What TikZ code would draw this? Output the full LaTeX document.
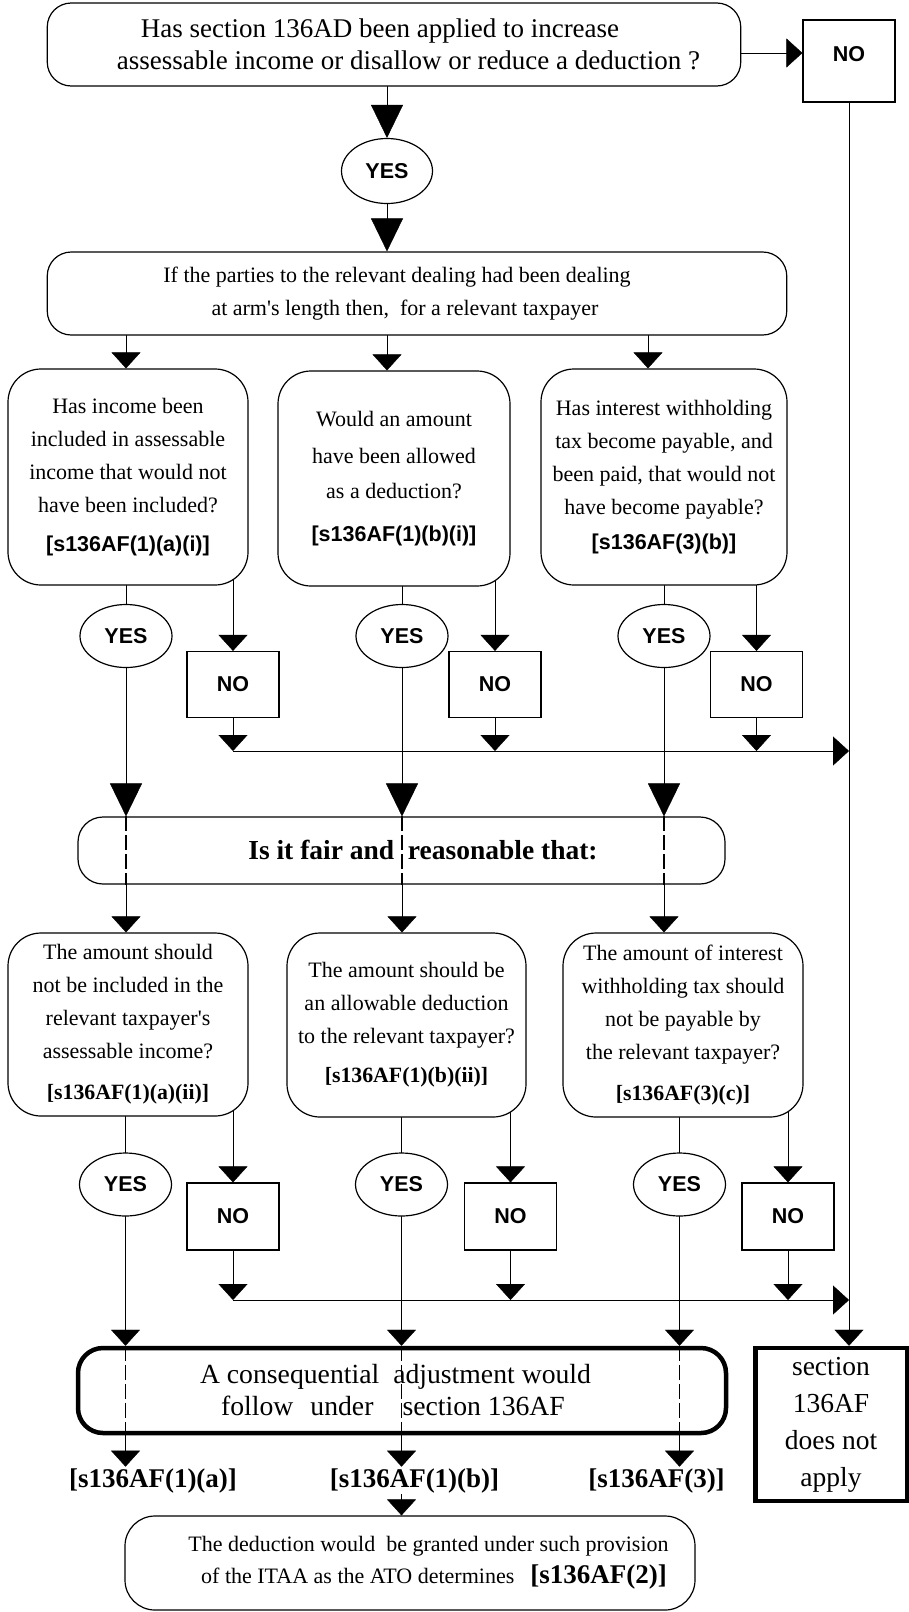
\documentclass[tikz,border=0pt]{standalone}
\usepackage{fontspec}
\setmainfont{Liberation Serif}
\setsansfont{Liberation Sans}
\usepackage{tikz}
\usetikzlibrary{shapes.geometric,arrows.meta,backgrounds}

\newcommand{\refsans}[1]{{\sffamily\bfseries\fontsize{21.5}{26}\selectfont #1}}
\newcommand{\refserif}[1]{{\bfseries\fontsize{21.8}{26}\selectfont #1}}

\begin{document}
\begin{tikzpicture}[x=1pt,y=-1pt,line width=1.2pt,
	box/.style={draw, rectangle, rounded corners=33pt, fill=white, align=center, inner sep=0pt, font=\fontsize{22}{33}\selectfont},
	widebox/.style={box, rounded corners=24pt},
	heavybox/.style={box, rounded corners=25pt, line width=4.5pt, font=\fontsize{27.7}{32}\selectfont},
	yesnode/.style={draw, ellipse, fill=white, minimum width=92pt, minimum height=63pt, inner sep=0pt, font=\sffamily\bfseries\fontsize{21.5}{24}\selectfont},
	nonode/.style={draw, rectangle, fill=white, minimum width=92pt, minimum height=66pt, inner sep=0pt, font=\sffamily\bfseries\fontsize{21.5}{24}\selectfont},
	provlabel/.style={inner sep=1pt, font=\bfseries\fontsize{27}{30}\selectfont},
	bigtip/.style={-{Triangle[width=32pt,length=33pt]}},
	smalltip/.style={-{Triangle[width=29pt,length=16pt]}},
	dashthrough/.style={dash pattern=on 15pt off 4pt}]
	\useasboundingbox (0,0) rectangle (909,1612);

	% first question
	\node[widebox, minimum width=693.5pt, minimum height=83pt, font=\fontsize{27}{32}\selectfont] (q0) at (394,44.5) {Has section 136AD been applied to increase\hspace*{28pt}\\\hspace*{29pt}assessable income or disallow or reduce a deduction ?};
	\node[nonode, minimum height=82pt, text depth=14pt] (no0) at (849,61) {NO};
	\node[yesnode, minimum width=91pt, minimum height=65pt] (y0) at (387,171) {YES};
	\node[widebox, minimum width=739.5pt, minimum height=83pt] (q1) at (417,293.5) {If the parties to the relevant dealing had been dealing\hspace*{40pt}\\at arm\textquotesingle s length then,\ \ for a relevant taxpayer\hspace*{24pt}};

	% arm's length questions
	\node[box, minimum width=240pt, minimum height=216pt] (a1) at (128,477) {Has income been\\included in assessable\\income that would not\\have been included?\\[6pt]\refsans{[s136AF(1)(a)(i)]}};
	\node[box, minimum width=232pt, minimum height=215pt] (a2) at (394,478.5) {Would an amount\\[4pt]have been allowed\\[2pt]as a deduction?\\[10pt]\refsans{[s136AF(1)(b)(i)]}};
	\node[box, minimum width=246pt, minimum height=216pt] (a3) at (664,477) {Has interest withholding\\tax become payable, and\\been paid, that would not\\have become payable?\\[2pt]\refsans{[s136AF(3)(b)]}};

	\node[yesnode] (ya1) at (126,636) {YES};
	\node[yesnode] (ya2) at (402,636) {YES};
	\node[yesnode] (ya3) at (664,636) {YES};
	\node[nonode] (na1) at (233,684.5) {NO};
	\node[nonode] (na2) at (495,684.5) {NO};
	\node[nonode] (na3) at (756.5,684.5) {NO};

	% fair and reasonable
	\node[box, rounded corners=25pt, minimum width=647pt, minimum height=67pt, font=\bfseries\fontsize{27.5}{32}\selectfont] (f) at (401.5,850.5) {\hspace*{43pt}Is it fair and\ \ reasonable that:};

	\node[box, minimum width=240pt, minimum height=183pt] (b1) at (128,1024.5) {The amount should\\not be included in the\\relevant taxpayer\textquotesingle s\\assessable income?\\[8pt]\refserif{[s136AF(1)(a)(ii)]}};
	\node[box, minimum width=239pt, minimum height=184pt] (b2) at (406.5,1025) {The amount should be\\an allowable deduction\\to the relevant taxpayer?\\[6pt]\refserif{[s136AF(1)(b)(ii)]}};
	\node[box, minimum width=240pt, minimum height=184pt] (b3) at (683,1025) {The amount of interest\\withholding tax should\\not be payable by\\the relevant taxpayer?\\[8pt]\refserif{[s136AF(3)(c)]}};

	\node[yesnode] (yb1) at (125.5,1184.5) {YES};
	\node[yesnode] (yb2) at (401.5,1184.5) {YES};
	\node[yesnode] (yb3) at (679.5,1184.5) {YES};
	\node[nonode, minimum height=67pt] (nb1) at (233,1216.5) {NO};
	\node[nonode, minimum height=67pt] (nb2) at (510.5,1216.5) {NO};
	\node[nonode, minimum height=67pt] (nb3) at (788,1216.5) {NO};

	% outcomes
	\node[heavybox, minimum width=648pt, minimum height=85pt] (c) at (402,1390.5) {A consequential\hspace{14pt}adjustment would\hspace*{13pt}\\follow\hspace{17pt}under\hspace{29pt}section 136AF\hspace*{18pt}};
	\node[heavybox, rounded corners=0pt, minimum width=151.5pt, minimum height=153pt, font=\fontsize{27.5}{37}\selectfont] (s) at (831,1424.5) {section\\136AF\\does not\\apply};
	\node[provlabel] (l1) at (153,1480.5) {[s136AF(1)(a)]};
	\node[provlabel] (l2) at (414.5,1480.5) {[s136AF(1)(b)]};
	\node[provlabel] (l3) at (656.5,1480.5) {[s136AF(3)]};
	\node[box, rounded corners=30pt, minimum width=570pt, minimum height=94pt, font=\fontsize{22}{32}\selectfont] (e) at (410,1563) {\hspace*{37pt}The deduction would\ \ be granted under such provision\\\hspace*{48pt}of the ITAA as the ATO determines\hspace{16pt}{\bfseries\fontsize{27}{30}\selectfont[s136AF(2)]}};

	\coordinate (i1) at (126,0);
	\coordinate (i3) at (648,0);
	\coordinate (h1) at (0,751);
	\coordinate (h2) at (0,1300);
	\coordinate (n0in) at ([yshift=8pt]no0.west);

	\begin{scope}[on background layer]
		\fill[white] (0,0) rectangle (909,1612);
		\path[bigtip] (q0.center -| y0) edge (y0.north);
		\path[bigtip] (y0.center) edge (q1.north -| y0);
		\path[smalltip] (q0.center |- n0in) edge (n0in);
		\path[smalltip] (no0.center) edge (s.north -| no0);

		\path[smalltip] (q1.center -| i1) edge (a1.north -| i1);
		\path[smalltip] (q1.center -| y0) edge (a2.north -| y0);
		\path[smalltip] (q1.center -| i3) edge (a3.north -| i3);

		\path [-] (a1.center -| ya1) edge (ya1.center);
		\path [-] (a2.center -| ya2) edge (ya2.center);
		\path [-] (a3.center -| ya3) edge (ya3.center);
		\path[smalltip] (a1.center -| na1) edge (na1.north);
		\path[smalltip] (a2.center -| na2) edge (na2.north);
		\path[smalltip] (a3.center -| na3) edge (na3.north);
		\path[smalltip] (na1.center) edge (na1.center |- h1);
		\path[smalltip] (na2.center) edge (na2.center |- h1);
		\path[smalltip] (na3.center) edge (na3.center |- h1);
		\path[smalltip] (na1.center |- h1) edge (no0 |- h1);

		\path[bigtip] (ya1.center) edge (f.north -| ya1);
		\path[bigtip] (ya2.center) edge (f.north -| ya2);
		\path[bigtip] (ya3.center) edge (f.north -| ya3);
		\path[smalltip] (f.center -| ya1) edge (b1.north -| ya1);
		\path[smalltip] (f.center -| ya2) edge (b2.north -| ya2);
		\path[smalltip] (f.center -| ya3) edge (b3.north -| ya3);

		\path [-] (b1.center -| yb1) edge (yb1.center);
		\path [-] (b2.center -| yb2) edge (yb2.center);
		\path [-] (b3.center -| yb3) edge (yb3.center);
		\path[smalltip] (b1.center -| nb1) edge (nb1.north);
		\path[smalltip] (b2.center -| nb2) edge (nb2.north);
		\path[smalltip] (b3.center -| nb3) edge (nb3.north);
		\path[smalltip] (nb1.center) edge (nb1.center |- h2);
		\path[smalltip] (nb2.center) edge (nb2.center |- h2);
		\path[smalltip] (nb3.center) edge (nb3.center |- h2);
		\path[smalltip] (nb1.center |- h2) edge (no0 |- h2);

		\path[smalltip] (yb1.center) edge (c.north -| yb1);
		\path[smalltip] (yb2.center) edge (c.north -| yb2);
		\path[smalltip] (yb3.center) edge (c.north -| yb3);
		\path[smalltip] (c.center -| yb1) edge (l1.north -| yb1);
		\path[smalltip] (c.center -| yb2) edge (l2.north -| yb2);
		\path[smalltip] (c.center -| yb3) edge (l3.north -| yb3);
		\path[smalltip] (l2.south -| yb2) edge (e.north -| yb2);
	\end{scope}

	% lines seen through the boxes
	\path[dashthrough] (f.north -| ya1) edge (f.south -| ya1);
	\path[dashthrough] (f.north -| ya2) edge (f.south -| ya2);
	\path[dashthrough] (f.north -| ya3) edge (f.south -| ya3);
	\path[dashthrough] (c.north -| yb1) edge (c.south -| yb1);
	\path[dashthrough] (c.north -| yb2) edge (c.south -| yb2);
	\path[dashthrough] (c.north -| yb3) edge (c.south -| yb3);
\end{tikzpicture}
\end{document}
